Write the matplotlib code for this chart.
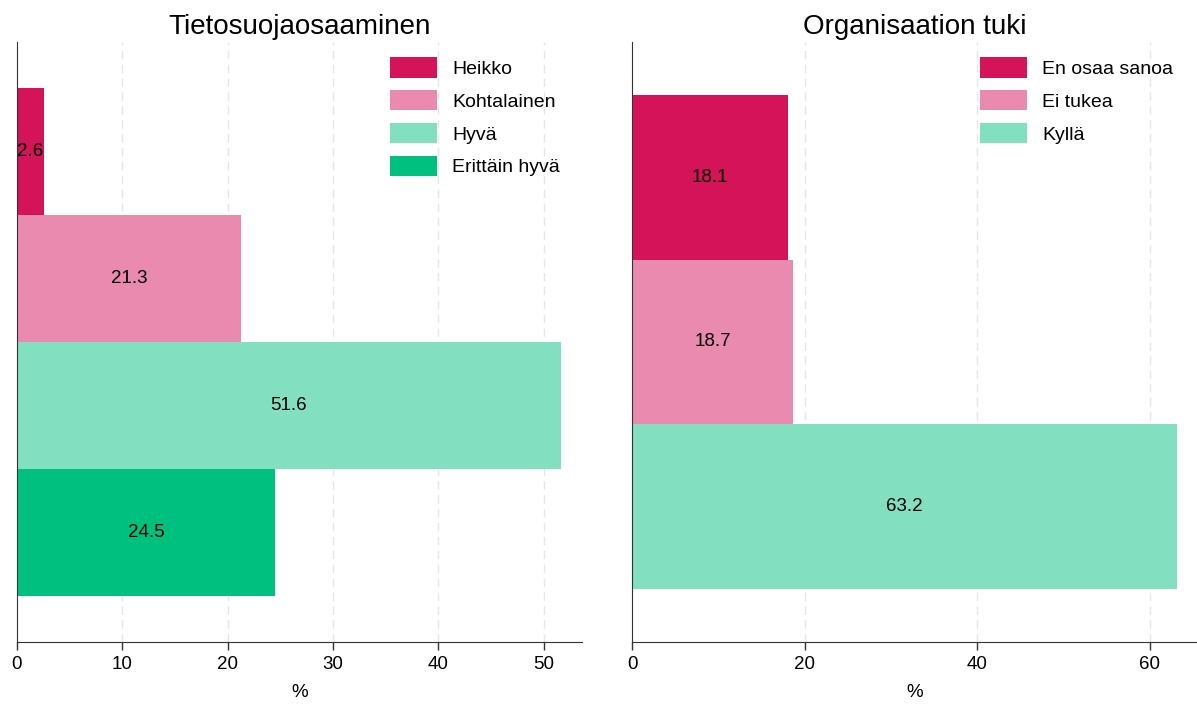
import matplotlib
matplotlib.use("Agg")
import matplotlib.pyplot as plt
from matplotlib.patches import Patch

plt.rcParams["font.family"] = ["Liberation Sans", "DejaVu Sans"]

# left panel
skills_labels = ["Heikko", "Kohtalainen", "Hyvä", "Erittäin hyvä"]
skills_values = [2.6, 21.3, 51.6, 24.5]
skills_colors = ["#d41359", "#e98aae", "#82e0c0", "#00c080"]
skills_ticks = [0, 10, 20, 30, 40, 50]

# right panel
support_labels = ["En osaa sanoa", "Ei tukea", "Kyllä"]
support_values = [18.1, 18.7, 63.2]
support_colors = ["#d41359", "#e98aae", "#82e0c0"]
support_ticks = [0, 20, 40, 60]


def draw_panel(ax, title, labels, values, colors, ticks, margin, xmax, legend_x):
    n = len(values)
    pos = list(range(n))
    ax.barh(pos, values, height=1.0, color=colors, edgecolor="none", zorder=2)
    for p, v in zip(pos, values):
        ax.text(v / 2, p, f"{v:.1f}", ha="center", va="center", fontsize=13.5, color="black", zorder=3)
    ax.set_ylim(n - 0.5 + margin, -0.5 - margin)
    ax.set_xlim(0, xmax)
    ax.set_xticks(ticks)
    ax.set_yticks([])
    ax.tick_params(axis="x", labelsize=13.5, length=6, width=1, color="#333333", pad=4)
    for t in ticks[1:]:
        ax.axvline(t, color="#e6e6e6", linestyle=(0, (6, 4)), linewidth=1, zorder=1)
    for s in ["top", "right"]:
        ax.spines[s].set_visible(False)
    ax.spines["left"].set_color("#333333")
    ax.spines["bottom"].set_color("#333333")
    ax.set_xlabel("%", fontsize=13.5, labelpad=8)
    ax.set_title(title, fontsize=20, pad=6)
    handles = [Patch(facecolor=c, edgecolor="none", label=l) for l, c in zip(labels, colors)]
    ax.legend(handles=handles, loc="upper right", frameon=False, fontsize=14,
              handlelength=2.4, handleheight=1.25, handletextpad=0.8, labelspacing=0.62,
              borderpad=0, borderaxespad=0, bbox_to_anchor=(legend_x, 0.975))


fig = plt.figure(figsize=(11.97, 7.04), dpi=100)
ax1 = fig.add_axes([16.7 / 1197, 62 / 704, 565 / 1197, 600 / 704])
ax2 = fig.add_axes([632 / 1197, 62 / 704, 565 / 1197, 600 / 704])

draw_panel(ax1, "Tietosuojaosaaminen", skills_labels, skills_values, skills_colors, skills_ticks,
           0.36, 53.6, 0.962)
draw_panel(ax2, "Organisaation tuki", support_labels, support_values, support_colors, support_ticks,
           0.325, 65.5, 0.958)

fig.savefig("out.png", dpi=100)
